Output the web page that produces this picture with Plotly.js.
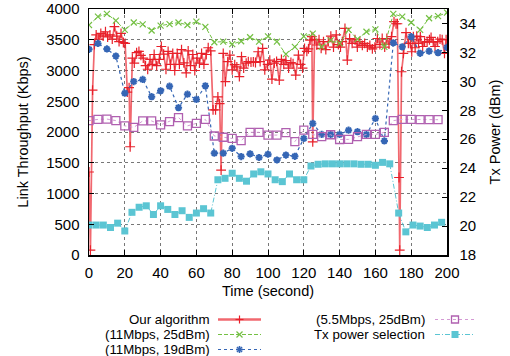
<!DOCTYPE html>
<html><head><meta charset="utf-8">
<script src="https://cdn.plot.ly/plotly-3.0.1.min.js"></script>
<style>html,body{margin:0;padding:0;background:#fff}</style>
</head><body><div id="chart" style="width:510px;height:356px"></div>
<script>
// ---- data ----
const seriesNames = ['Our algorithm', '(11Mbps, 25dBm)', '(11Mbps, 19dBm)', '(5.5Mbps, 25dBm)', 'Tx power selection'];

const redT = [0,0.8,2,3,4,5.5,6.6,7.9,9.2,10.4,11.7,13,14.2,15.5,16.8,17.9,19.2,20.2,21.4,22.4,23,24.2,25.3,26.6,27.9,29,30.3,31.6,32.8,34.1,35.3,36.4,37.8,39.3,40.4,41.7,43,44.2,45.5,46.8,47.9,49.3,50.5,51.7,53,54.3,55.4,56.7,58,59.1,60.4,61.7,62.9,64.2,65.5,66.6,68,69.3,70.7,72,73,73.8,75,76.2,77.5,78.7,80,81.4,82.6,84,85.2,86.4,87.8,89,90.5,91.8,93,94.5,95.6,97,98.2,99.8,101,102.2,103.5,104.8,106.3,107.5,108.8,110,111.5,112.8,114,115.5,117,118.2,119.3,120.4,121.7,122.6,123.5,124.5,125,126,127.3,128.5,129.7,131,132.3,133.7,135.1,136.6,138.1,139.3,140.5,141.5,143,144.3,145.6,147,148.6,149.9,151.3,152.7,154,155.5,156.9,158.3,159.7,161.1,162.5,163.8,165.2,166.4,167.6,169,170.4,171.5,172.3,173.2,173.6,174.6,175.6,177.1,178.4,179.5,180.3,181.2,182.2,183.1,184.1,185.1,186.4,187.5,188.9,190.2,191.1,192.3,193.3,194.8,196.1,197.3,198.6,199.5];
const redV = [1350,80,2680,3420,3580,3510,3605,3560,3630,3545,3580,3510,3715,3560,3470,3605,3455,3440,2650,2720,1760,3200,3120,3290,3310,3245,3200,3080,3020,3180,3100,3260,3080,3180,3390,3265,3020,3310,3100,3280,3000,3280,3100,3340,3125,2960,3320,3080,3260,3000,3200,3120,3280,3100,3260,3370,3320,2360,2360,2570,2460,1380,3280,2820,3145,3250,3010,3095,3060,2900,3225,3040,3120,3145,3135,3140,3130,3305,3145,3360,3010,3100,3170,2860,3120,3150,2845,3180,3100,3160,3040,3130,3110,2925,3250,3100,3040,3360,3310,3350,3495,3550,1840,3505,3415,3500,3360,3470,3340,3470,3560,3380,3580,3420,3380,3470,3685,3170,3520,3440,3500,3380,3470,3410,3440,3380,3410,3350,3380,3520,3420,3520,3380,3520,3430,3550,3795,3760,3760,1260,80,2980,3280,3615,3440,3440,3305,3550,3370,3560,3440,3550,3390,3460,3470,3500,3540,3460,3390,3470,3510,3500,3280,3500];

const t5 = [0,5,10,15,20,25,30,35,40,45,50,55,60,65,70,75,80,85,90,95,100,105,110,115,120,125,130,135,140,145,150,155,160,165,170,175,180,185,190,195,200];
const green = [3740,3875,3920,3810,3660,3780,3750,3650,3730,3755,3780,3740,3795,3710,3460,3470,3430,3475,3540,3470,3555,3470,3265,3385,3555,3600,3385,3490,3440,3660,3510,3630,3670,3385,3920,3875,3780,3660,3850,3885,3940];
const blue = [3345,3440,3350,3235,2630,2820,2855,2575,2670,2745,2395,2615,2530,2750,1655,1655,1735,1600,1645,1585,1640,1545,1625,1605,1895,2140,1960,1960,1960,2030,2005,1960,2220,1855,3450,3385,3550,3280,3315,3290,3375];
const purpleT = [0,5,10,15,20,25,30,35,40,45,50,55,60,65,70,75,80,85,90,95,100,105,110,115,120,125,130,135,140,145,150,155,160,165,170,175,180,185,190,195];
const purple = [2185,2205,2210,2185,2100,2075,2180,2180,2115,2170,2235,2100,2140,2205,1935,1915,1895,1860,1995,1995,1950,1950,1990,1845,2030,1960,1925,1955,1878,1880,1925,1960,1960,1995,2185,2205,2205,2200,2200,2200];
const cyanT = [0,4,8,12,16,20,24,28,32,36,40,44,48,52,56,60,64,68,72,76,80,84,88,92,96,100,104,108,112,116,120,124,128,132,136,140,144,148,152,156,160,164,168,173,177,181,185,189,193,197];
const cyanDbm = [20.07,20.07,20.07,19.9,20.2,19.66,20.95,21.3,21.4,20.8,21.4,21.15,20.8,21.06,20.6,20.9,21.2,20.9,23.2,23.3,23.65,23.3,23.1,23.6,23.75,23.6,23.2,23.07,23.6,23.2,23.2,24.15,24.27,24.3,24.3,24.3,24.3,24.3,24.27,24.27,24.2,24.4,24.3,20.9,19.6,20.07,20.0,19.9,20.07,20.26];

const xTicks = [0,20,40,60,80,100,120,140,160,180,200];
const yTicks = [0,500,1000,1500,2000,2500,3000,3500,4000];
const y2Ticks = [18,20,22,24,26,28,30,32,34];

// ---- styles ----
const C = {red:'#e8202a', redLine:'rgba(235,40,50,0.7)', green:'#74c043', blue:'#3566b5', purple:'#b060b0', purpleLine:'#d49ad4', cyan:'#5bc5d3'};
const FONT = 'Liberation Sans, Arial, Helvetica, sans-serif';

const traces = [
  {x: redT, y: redV, name: seriesNames[0], mode:'lines+markers', showlegend:false,
   line:{color:C.redLine, width:1.7},
   marker:{symbol:'cross-thin-open', size:7, color:C.red, line:{color:C.red, width:1.2}}},
  {x: t5, y: green, name: seriesNames[1], mode:'lines+markers', showlegend:false,
   line:{color:C.green, width:1, dash:'4px,2px'},
   marker:{symbol:'x-thin-open', size:6, color:C.green, line:{color:C.green, width:1.2}}},
  {x: t5, y: blue, name: seriesNames[2], mode:'lines+markers', showlegend:false,
   line:{color:C.blue, width:1.2, dash:'dot'},
   marker:{symbol:'asterisk-open', size:6, color:C.blue, line:{color:C.blue, width:2}}},
  {x: purpleT, y: purple, name: seriesNames[3], mode:'lines+markers', showlegend:false,
   line:{color:C.purpleLine, width:1, dash:'dot'},
   marker:{symbol:'square-open', size:8, color:C.purple, line:{color:C.purple, width:1.3}}},
  {x: cyanT, y: cyanDbm, yaxis:'y2', name: seriesNames[4], mode:'lines+markers', showlegend:false,
   line:{color:C.cyan, width:1, dash:'5px,2px,1px,2px'},
   marker:{symbol:'square', size:7, color:C.cyan}}
];

const W=510, H=356, L=89, R=63, T=9, B=101;
const pw=W-L-R, ph=H-T-B;
const px = v => (v-L)/pw;
const py = v => 1-(v-T)/ph;

// custom gnuplot-style legend (text left, sample right)
const legendRows = [319.5, 334.5, 349.5];
const legendCols = [{textRight:211, x0:218, x1:261}, {textRight:426, x0:435, x1:475}];
const legendPos = [[0,0],[0,1],[0,2],[1,0],[1,1]];
const legendLine = [
  {color:C.redLine, width:2.5, dash:'solid'},
  {color:C.green, width:1, dash:'4px,2px'},
  {color:C.blue, width:1.2, dash:'dot'},
  {color:C.purpleLine, width:1, dash:'dot'},
  {color:C.cyan, width:1, dash:'5px,2px,1px,2px'}
];
const legendMark = ['plus','x','ast','sqo','sq'];
const legendMarkColor = [C.red, C.green, C.blue, C.purple, C.cyan];

const annotations = [];
const shapes = [];
function seg(x0,y0,x1,y1,color,width){
  shapes.push({type:'line', xref:'paper', yref:'paper', x0:px(x0), y0:py(y0), x1:px(x1), y1:py(y1), line:{color, width}});
}
seriesNames.forEach((nm,i)=>{
  const [c,r] = legendPos[i];
  const col = legendCols[c], yy = legendRows[r];
  annotations.push({text:nm, xref:'paper', yref:'paper', x:px(col.textRight), y:py(yy), xanchor:'right', yanchor:'middle', showarrow:false, borderpad:0, font:{family:FONT, size:13.3, color:'#000'}});
  shapes.push({type:'line', xref:'paper', yref:'paper', x0:px(col.x0), x1:px(col.x1), y0:py(yy), y1:py(yy), line:legendLine[i]});
  const cx=(col.x0+col.x1)/2, cy=yy, mc=legendMarkColor[i];
  const m = legendMark[i];
  if(m==='plus'){ seg(cx-4,cy,cx+4,cy,mc,1.2); seg(cx,cy-4,cx,cy+4,mc,1.2); }
  if(m==='x'){ seg(cx-3,cy-3,cx+3,cy+3,mc,1.2); seg(cx-3,cy+3,cx+3,cy-3,mc,1.2); }
  if(m==='ast'){ seg(cx-3.5,cy,cx+3.5,cy,mc,1.6); seg(cx,cy-3.5,cx,cy+3.5,mc,1.6); seg(cx-2.5,cy-2.5,cx+2.5,cy+2.5,mc,1.6); seg(cx-2.5,cy+2.5,cx+2.5,cy-2.5,mc,1.6); }
  if(m==='sqo'){ shapes.push({type:'rect', xref:'paper', yref:'paper', x0:px(cx-3.5), x1:px(cx+3.5), y0:py(cy+3.5), y1:py(cy-3.5), line:{color:mc, width:1.3}, fillcolor:'rgba(0,0,0,0)'}); }
  if(m==='sq'){ shapes.push({type:'rect', xref:'paper', yref:'paper', x0:px(cx-3.5), x1:px(cx+3.5), y0:py(cy+3.5), y1:py(cy-3.5), line:{width:0}, fillcolor:mc}); }
});

const axisCommon = {
  showline:true, linecolor:'#000', linewidth:1.5, ticks:'inside', ticklen:5, tickcolor:'#000', tickwidth:1,
  zeroline:false, tickfont:{family:FONT, size:15, color:'#000'}, automargin:false
};

const layout = {
  width:W, height:H, margin:{l:L, r:R, t:T, b:B}, paper_bgcolor:'#fff', plot_bgcolor:'#fff',
  font:{family:FONT, color:'#000'}, showlegend:false,
  xaxis: Object.assign({}, axisCommon, {range:[0,200], tickvals:xTicks, mirror:'ticks',
     showgrid:true, gridcolor:'#777', griddash:'dot', gridwidth:1, ticklabelstandoff:3,
     title:{text:'Time (second)', font:{family:FONT, size:14.5}, standoff:6}}),
  yaxis: Object.assign({}, axisCommon, {range:[0,4000], tickvals:yTicks,
     showgrid:true, gridcolor:'#777', griddash:'dot', gridwidth:1, ticklabelstandoff:5,
     title:{text:'Link Throughput (Kbps)', font:{family:FONT, size:14.5}, standoff:14}}),
  yaxis2: Object.assign({}, axisCommon, {range:[18,35], tickvals:y2Ticks, overlaying:'y', side:'right',
     showgrid:false, ticklabelstandoff:8,
     title:{text:'Tx Power (dBm)', font:{family:FONT, size:14.5}, standoff:14}}),
  annotations, shapes
};

Plotly.newPlot('chart', traces, layout, {staticPlot:true, displayModeBar:false});
</script></body></html>
